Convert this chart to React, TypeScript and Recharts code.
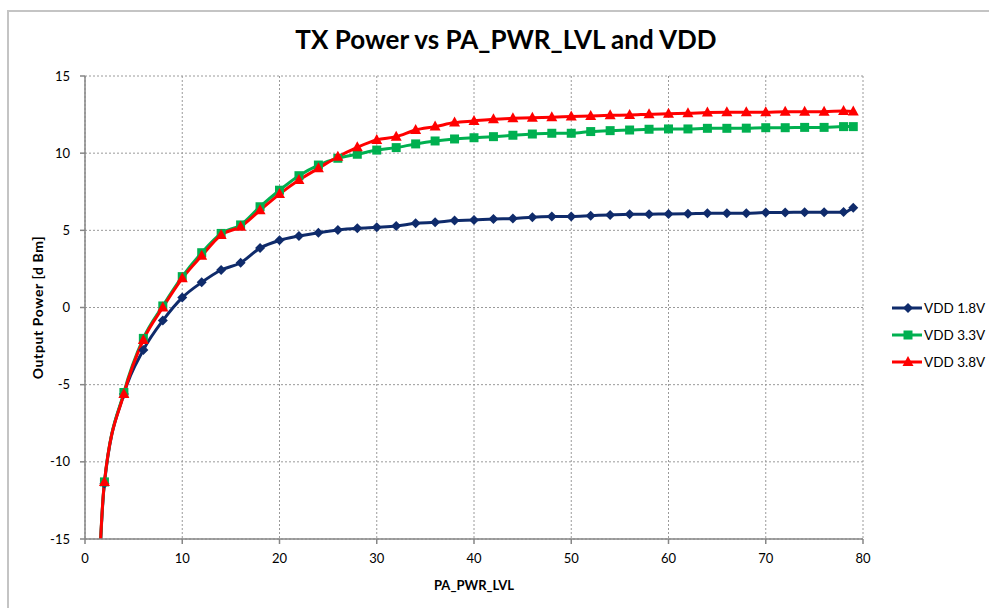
import React from 'react';
import { LineChart, Line, XAxis, YAxis, CartesianGrid, Label } from 'recharts';

// PA_PWR_LVL settings (x) and measured output power in dBm per supply voltage
const levels = [0, 2, 4, 6, 8, 10, 12, 14, 16, 18, 20, 22, 24, 26, 28, 30, 32, 34, 36, 38, 40, 42, 44, 46, 48, 50, 52, 54, 56, 58, 60, 62, 64, 66, 68, 70, 72, 74, 76, 78, 79];

const vdd18 = [-50, -11.4, -5.6, -2.75, -0.85, 0.64, 1.63, 2.43, 2.9, 3.85, 4.35, 4.63, 4.85, 5.02, 5.13, 5.2, 5.28, 5.46, 5.52, 5.63, 5.67, 5.74, 5.76, 5.85, 5.89, 5.9, 5.95, 6.0, 6.04, 6.05, 6.06, 6.07, 6.1, 6.1, 6.11, 6.15, 6.16, 6.17, 6.17, 6.18, 6.47];

const vdd33 = [-50, -11.3, -5.5, -2.0, 0.1, 2.0, 3.55, 4.8, 5.35, 6.53, 7.6, 8.54, 9.23, 9.67, 9.93, 10.2, 10.36, 10.6, 10.79, 10.92, 11.0, 11.07, 11.16, 11.24, 11.29, 11.29, 11.4, 11.46, 11.5, 11.55, 11.57, 11.57, 11.61, 11.61, 11.62, 11.65, 11.65, 11.67, 11.67, 11.72, 11.72];

const vdd38 = [-50, -11.3, -5.6, -2.1, 0.0, 1.89, 3.35, 4.7, 5.24, 6.3, 7.35, 8.26, 9.02, 9.77, 10.38, 10.86, 11.07, 11.5, 11.72, 11.98, 12.09, 12.2, 12.26, 12.3, 12.33, 12.37, 12.41, 12.45, 12.47, 12.52, 12.56, 12.58, 12.63, 12.65, 12.65, 12.65, 12.69, 12.69, 12.69, 12.73, 12.7];

const xTicks = [0, 10, 20, 30, 40, 50, 60, 70, 80];
const yTicks = [-15, -10, -5, 0, 5, 10, 15];

const seriesNames = ['VDD 1.8V', 'VDD 3.3V', 'VDD 3.8V'];

const data = levels.map((lvl, i) => ({ lvl, v18: vdd18[i], v33: vdd33[i], v38: vdd38[i] }));

const FONT = 'Lato, "Open Sans", sans-serif';
const AXIS = '#868686';

type Shape = 'diamond' | 'square' | 'triangle';

const series: { key: string; name: string; color: string; shape: Shape }[] = [
  { key: 'v18', name: seriesNames[0], color: '#0f2b6b', shape: 'diamond' },
  { key: 'v33', name: seriesNames[1], color: '#00b050', shape: 'square' },
  { key: 'v38', name: seriesNames[2], color: '#ff0000', shape: 'triangle' },
];

function markerPath(shape: Shape, cx: number, cy: number) {
  if (shape === 'diamond') return `M${cx},${cy - 5}L${cx + 5},${cy}L${cx},${cy + 5}L${cx - 5},${cy}Z`;
  if (shape === 'square') return `M${cx - 4.5},${cy - 4.5}h9v9h-9Z`;
  return `M${cx},${cy - 6}L${cx + 5.5},${cy + 4}L${cx - 5.5},${cy + 4}Z`;
}

const makeDot = (shape: Shape, color: string) => (props: any) => {
  const { cx, cy, index } = props;
  if (cx == null || cy == null) return <g key={`m-${index}`} />;
  return <path key={`m-${index}`} d={markerPath(shape, cx, cy)} fill={color} stroke="none" />;
};

function LegendBox() {
  return (
    <div style={{ position: 'absolute', left: 889, top: 294, width: 100, fontFamily: FONT, fontSize: 13.5, whiteSpace: 'nowrap' }}>
      {series.map((s) => (
        <div key={s.key} style={{ display: 'flex', alignItems: 'center', height: 27 }}>
          <svg width={34} height={12} style={{ flex: 'none' }}>
            <line x1={3} y1={6} x2={33} y2={6} stroke={s.color} strokeWidth={3} />
            <path d={markerPath(s.shape, 19, 6)} fill={s.color} />
          </svg>
          <span style={{ marginLeft: 1 }}>{s.name}</span>
        </div>
      ))}
    </div>
  );
}

export default function App() {
  return (
    <div style={{ position: 'fixed', left: 0, top: 0, width: 989, height: 608, overflow: 'hidden', background: '#fff' }}>
      <div style={{ position: 'absolute', left: 7, top: 10, width: 1100, height: 800, border: '2px solid #c4c4c4' }} />
      <div
        style={{
          position: 'absolute',
          left: 0,
          width: 1012,
          top: 23,
          textAlign: 'center',
          fontFamily: FONT,
          fontWeight: 700,
          fontSize: 26,
          color: '#000',
        }}
      >
        TX Power vs PA_PWR_LVL and VDD
      </div>
      <div style={{ position: 'absolute', left: 0, top: 0 }}>
        <LineChart width={989} height={608} data={data} margin={{ top: 76, right: 126, bottom: 14, left: 0 }}>
          <CartesianGrid stroke="#9a9a9a" strokeDasharray="2 2" />
          <XAxis
            dataKey="lvl"
            type="number"
            domain={[0, 80]}
            ticks={xTicks}
            interval={0}
            height={55}
            stroke={AXIS}
            strokeWidth={1.5}
            tickSize={5}
            tickMargin={10}
            tick={{ fill: '#000', fontSize: 13, fontFamily: FONT }}
          >
            <Label value="PA_PWR_LVL" position="insideBottom" offset={4} style={{ fontFamily: FONT, fontWeight: 700, fontSize: 13, fill: '#000' }} />
          </XAxis>
          <YAxis
            type="number"
            domain={[-15, 15]}
            ticks={yTicks}
            interval={0}
            allowDataOverflow
            width={85}
            stroke={AXIS}
            strokeWidth={1.5}
            tickSize={5}
            tickMargin={10}
            tick={{ fill: '#000', fontSize: 13, fontFamily: FONT }}
          >
            <Label
              content={({ viewBox }: any) => {
                const x = 37;
                const y = viewBox.y + viewBox.height / 2;
                return (
                  <text
                    x={x}
                    y={y}
                    transform={`rotate(-90 ${x} ${y})`}
                    textAnchor="middle"
                    dominantBaseline="central"
                    style={{ fontFamily: FONT, fontWeight: 700, fontSize: 14, letterSpacing: 0.6, fill: '#000' }}
                  >
                    Output Power [d Bm]
                  </text>
                );
              }}
            />
          </YAxis>
          {series.map((s) => (
            <Line
              key={s.key}
              type="monotone"
              dataKey={s.key}
              name={s.name}
              stroke={s.color}
              strokeWidth={3}
              dot={makeDot(s.shape, s.color)}
              activeDot={false}
              isAnimationActive={false}
            />
          ))}
        </LineChart>
      </div>
      <LegendBox />
    </div>
  );
}
